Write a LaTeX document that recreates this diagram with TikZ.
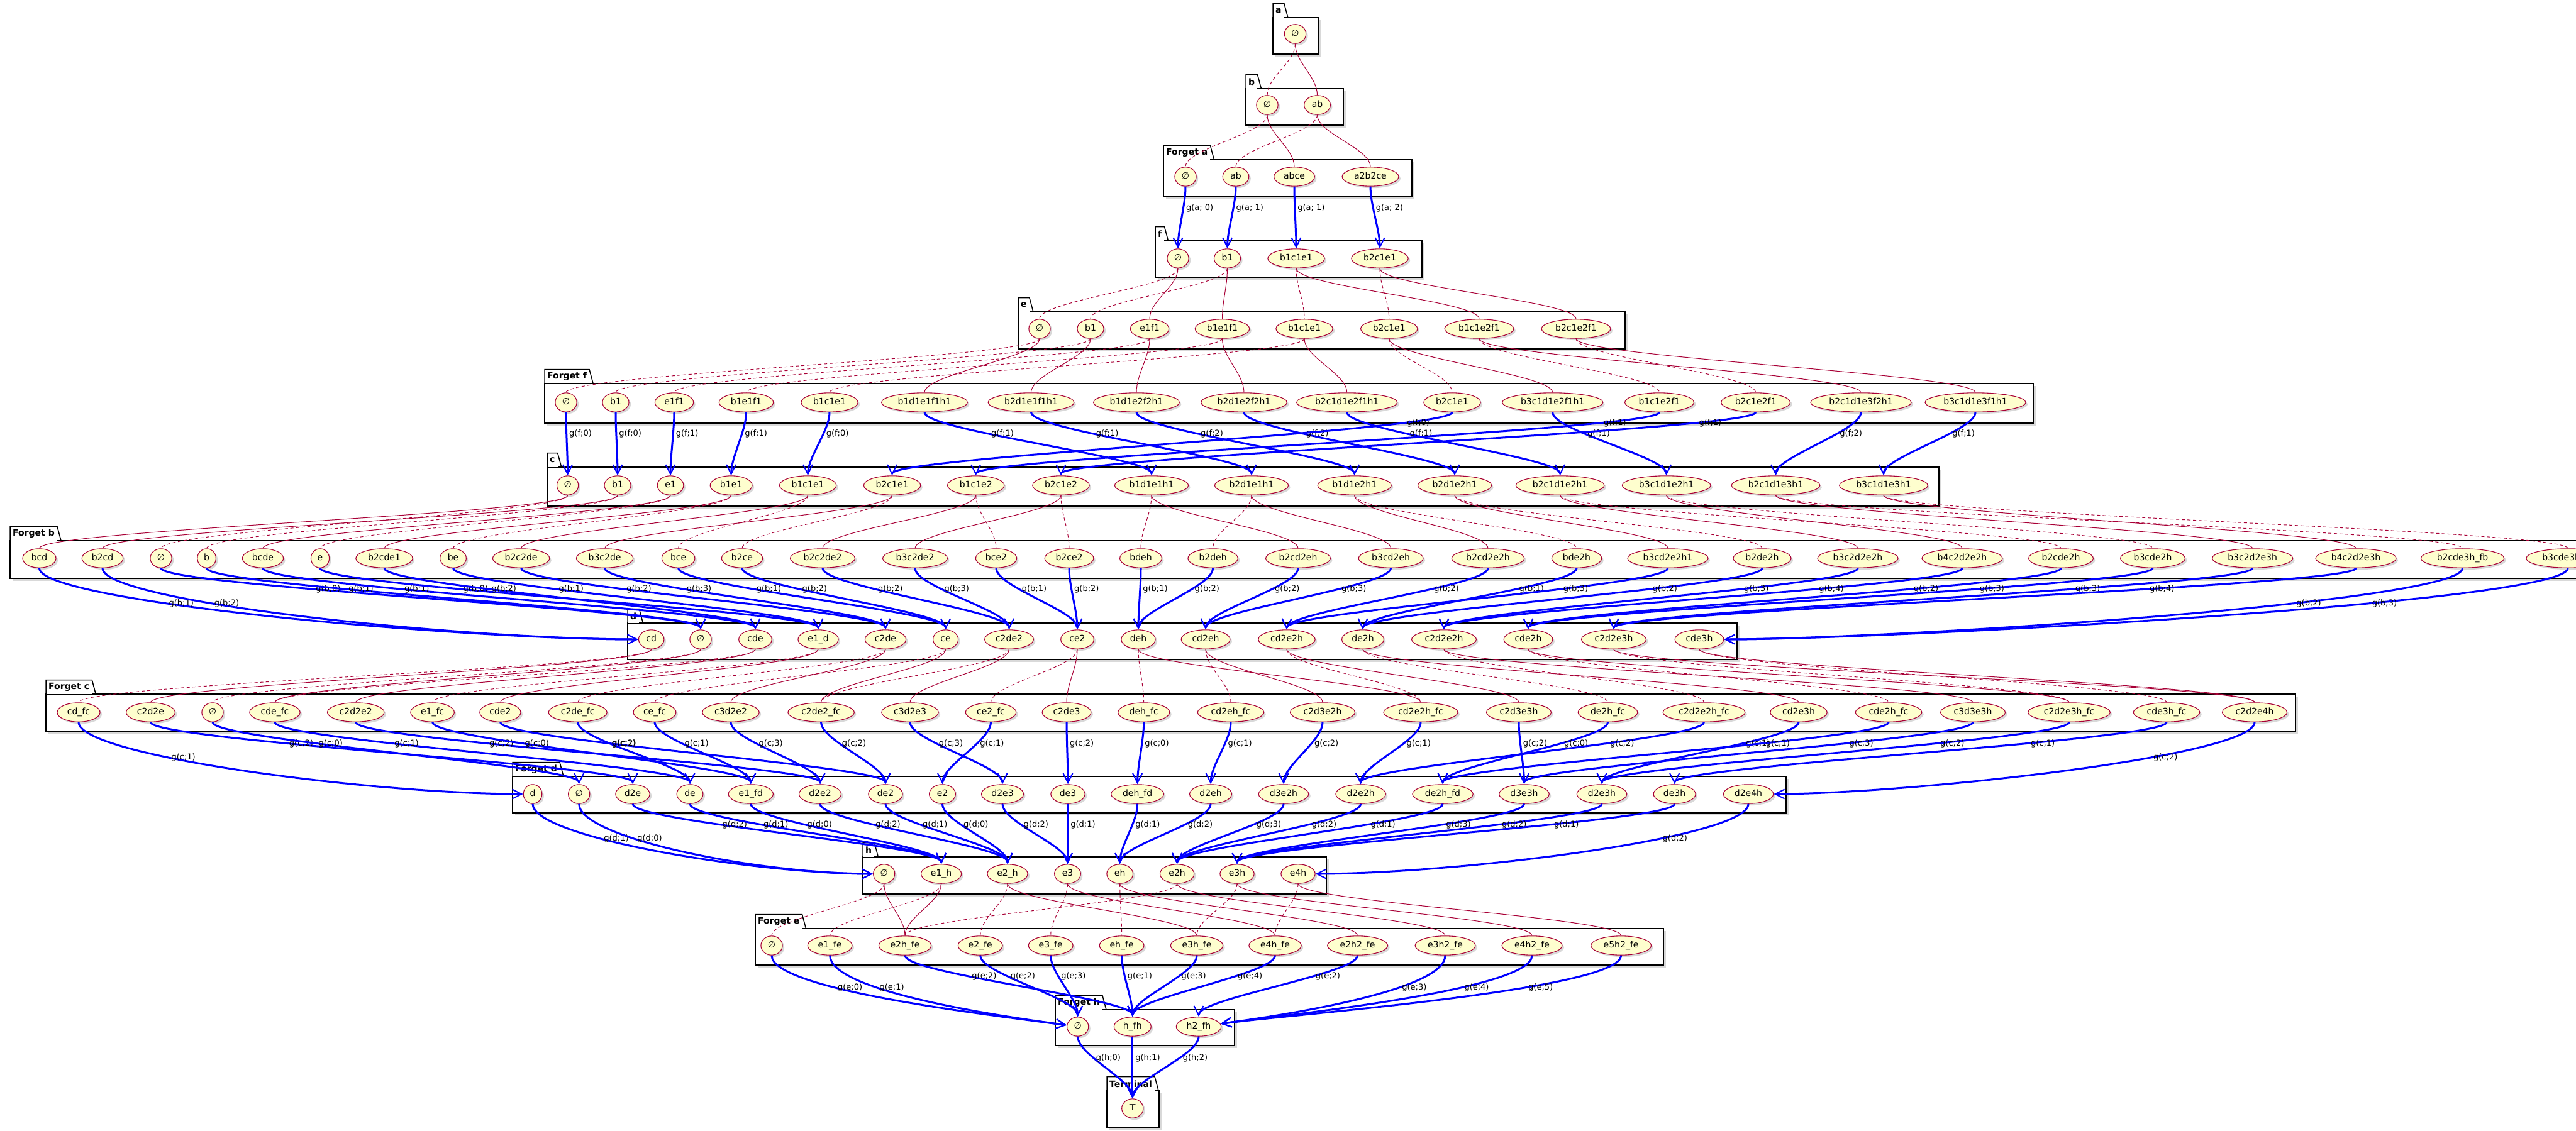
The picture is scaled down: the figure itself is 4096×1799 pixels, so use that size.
\documentclass[tikz,border=0pt]{standalone}
\usepackage{fontspec}
\setmainfont{DejaVu Sans}
\usetikzlibrary{shapes.geometric,shadows,arrows.meta}
\definecolor{ucfill}{HTML}{FEFECE}
\definecolor{ucline}{HTML}{A80036}

\tikzset{
  uc/.style={ellipse, draw=ucline, fill=ucfill, line width=1.1pt, inner xsep=6pt, inner ysep=4pt,
    text height=10.5pt, text depth=3pt, font=\fontsize{14}{16}\selectfont,
    drop shadow={shadow xshift=3pt, shadow yshift=-3pt, opacity=0.3}},
  rel/.style={draw=ucline, line width=1pt},
  reldash/.style={rel, dash pattern=on 5pt off 4pt},
  garrow/.style={draw=blue, line width=3pt, -{Straight Barb[length=15pt,width=15pt,line width=2pt]}},
  glbl/.style={pos=0.35, anchor=west, inner sep=3pt, text=black, font=\fontsize{13}{15}\selectfont},
  vc/.style={to path={.. controls +(0,-#1) and +(0,#1) .. (\tikztotarget) \tikztonodes}},
  vc/.default=45,
  pkgline/.style={draw=black, line width=1.5pt},
  pkgtab/.style={fill=white, inner xsep=4pt, inner ysep=0pt, minimum height=22pt, font=\bfseries\fontsize{14}{16}\selectfont},
}

% package: id, title, left, right, body top, body bottom
\newcommand{\pkgbox}[6]{%
  \draw[pkgline, fill=white, drop shadow={shadow xshift=4pt, shadow yshift=-4pt, opacity=0.3}] (#3,-#5) rectangle (#4,-#6);
  \node[pkgtab, anchor=south west] (#1) at (#3,-#5) {#2};
  \draw[pkgline] (#1.south west) -- (#1.north west) -- (#1.north east) -- ([xshift=6pt]#1.south east);
}

\begin{document}
\begin{tikzpicture}[x=1pt, y=1pt]
\useasboundingbox (0,0) rectangle (4096,-1799);

% packages
\pkgbox{pa}{a}{2024}{2097}{28}{86}
\pkgbox{pb}{b}{1981}{2136}{141}{199}
\pkgbox{pfa}{Forget a}{1850}{2245}{254}{312}
\pkgbox{pf}{f}{1837}{2261}{383}{441}
\pkgbox{pe}{e}{1619}{2584}{496}{555}
\pkgbox{pff}{Forget f}{866}{3233}{610}{673}
\pkgbox{pc}{c}{870}{3083}{743}{805}
\pkgbox{pfb}{Forget b}{16}{4150}{860}{920}
\pkgbox{pd}{d}{998}{2762}{991}{1049}
\pkgbox{pfc}{Forget c}{73}{3650}{1104}{1164}
\pkgbox{pfd}{Forget d}{815}{2840}{1235}{1293}
\pkgbox{ph}{h}{1372}{2109}{1363}{1422}
\pkgbox{pfe}{Forget e}{1201}{2645}{1477}{1535}
\pkgbox{pfh}{Forget h}{1678}{1963}{1606}{1663}
\pkgbox{pt}{Terminal}{1760}{1843}{1735}{1793}

% states
\node[uc] (a0) at (2059.5,-54) {∅};
\node[uc] (b0) at (2015,-167) {∅};
\node[uc] (b1) at (2094.5,-167) {ab};
\foreach \x/\t [count=\i from 0] in {1885/∅, 1965/ab, 2058/abce, 2179/a2b2ce}
  \node[uc] (fa\i) at (\x,-281) {\t};
\foreach \x/\t [count=\i from 0] in {1873/∅, 1951.5/b1, 2061/b1c1e1, 2194/b2c1e1}
  \node[uc] (f\i) at (\x,-411) {\t};
\foreach \x/\t [count=\i from 0] in {1653/∅, 1734/b1, 1828/e1f1, 1943.5/b1e1f1, 2074/b1c1e1,
    2208.7/b2c1e1, 2352/b1c1e2f1, 2506/b2c1e2f1}
  \node[uc] (e\i) at (\x,-523) {\t};
\foreach \x/\t [count=\i from 0] in {900/∅, 979/b1, 1072/e1f1, 1186.5/b1e1f1, 1319/b1c1e1,
    1470/b1d1e1f1h1, 1639.5/b2d1e1f1h1, 1807/b1d1e2f2h1, 1978/b2d1e2f2h1, 2141.7/b2c1d1e2f1h1,
    2309/b2c1e1, 2468.7/b3c1d1e2f1h1, 2638.5/b1c1e2f1, 2791.6/b2c1e2f1, 2959/b2c1d1e3f2h1,
    3141/b3c1d1e3f1h1}
  \node[uc] (ff\i) at (\x,-640) {\t};
\foreach \x/\t [count=\i from 0] in {902.6/∅, 982/b1, 1066/e1, 1162.6/b1e1, 1284.6/b1c1e1,
    1418.6/b2c1e1, 1551.7/b1c1e2, 1687/b2c1e2, 1831/b1d1e1h1, 1990/b2d1e1h1, 2153.7/b1d1e2h1,
    2313/b2d1e2h1, 2480.6/b2c1d1e2h1, 2649.7/b3c1d1e2h1, 2823.5/b2c1d1e3h1, 2995/b3c1d1e3h1}
  \node[uc] (c\i) at (\x,-772) {\t};
\foreach \x/\t [count=\i from 0] in {62.5/bcd, 163/b2cd, 256/∅, 328.6/b, 418/bcde, 509/e,
    611/b2cde1, 720.5/be, 828.6/b2c2de, 961.6/b3c2de, 1078.6/bce, 1180/b2ce, 1308/b2c2de2,
    1455/b3c2de2, 1584/bce2, 1700/b2ce2, 1814/bdeh, 1928.6/b2deh, 2064/b2cd2eh, 2211.6/b3cd2eh,
    2366/b2cd2e2h, 2507/bde2h, 2652/b3cd2e2h1, 2802/b2de2h, 2954/b3c2d2e2h, 3120/b4c2d2e2h,
    3277/b2cde2h, 3423/b3cde2h, 3581.6/b3c2d2e3h, 3746/b4c2d2e3h, 3915.5/b2cde3h\_fb,
    4083/b3cde3h\_fb}
  \node[uc] (fb\i) at (\x,-888) {\t};
\foreach \x/\t [count=\i from 0] in {1035.7/cd, 1114/∅, 1201/cde, 1301/e1\_d, 1408/c2de,
    1503.6/ce, 1604.5/c2de2, 1713/ce2, 1810/deh, 1917/cd2eh, 2046/cd2e2h, 2167/de2h,
    2296/c2d2e2h, 2430/cde2h, 2566/c2d2e3h, 2702/cde3h}
  \node[uc] (d\i) at (\x,-1017) {\t};
\foreach \x/\t [count=\i from 0] in {125/cd\_fc, 239.5/c2d2e, 338/∅, 437/cde\_fc, 565.7/c2d2e2,
    687.6/e1\_fc, 795.4/cde2, 918.7/c2de\_fc, 1041/ce\_fc, 1162/c3d2e2, 1305.6/c2de2\_fc,
    1447/c3d2e3, 1575.5/ce2\_fc, 1696/c2de3, 1818.7/deh\_fc, 1957/cd2eh\_fc, 2103/c2d3e2h,
    2259/cd2e2h\_fc, 2415/c2d3e3h, 2556.5/de2h\_fc, 2709.5/c2d2e2h\_fc, 2860/cd2e3h,
    3003/cde2h\_fc, 3137/c3d3e3h, 3290/c2d2e3h\_fc, 3445/cde3h\_fc, 3585/c2d2e4h}
  \node[uc] (fc\i) at (\x,-1133) {\t};
\foreach \x/\t [count=\i from 0] in {847/d, 920.7/∅, 1006/d2e, 1097/de, 1193.8/e1\_fd, 1304/d2e2,
    1408/de2, 1498.5/e2, 1594/d2e3, 1698/de3, 1808.6/deh\_fd, 1925/d2eh, 2041/d3e2h,
    2163.6/d2e2h, 2294/de2h\_fd, 2423.5/d3e3h, 2547/d2e3h, 2662.6/de3h, 2780/d2e4h}
  \node[uc] (fd\i) at (\x,-1263) {\t};
\foreach \x/\t [count=\i from 0] in {1405.7/∅, 1496.6/e1\_h, 1602/e2\_h, 1697.5/e3, 1780.7/eh,
    1871.6/e2h, 1967/e3h, 2064/e4h}
  \node[uc] (h\i) at (\x,-1390) {\t};
\foreach \x/\t [count=\i from 0] in {1227/∅, 1319.6/e1\_fe, 1439/e2h\_fe, 1558.7/e2\_fe,
    1670.7/e3\_fe, 1783.6/eh\_fe, 1903/e3h\_fe, 2027.5/e4h\_fe, 2158.6/e2h2\_fe, 2298/e3h2\_fe,
    2436/e4h2\_fe, 2577.6/e5h2\_fe}
  \node[uc] (fe\i) at (\x,-1504) {\t};
\foreach \x/\t [count=\i from 0] in {1713.7/∅, 1800.8/h\_fh, 1906/h2\_fh}
  \node[uc] (fh\i) at (\x,-1633) {\t};
\node[uc] (t0) at (1800.8,-1763) {⊤};

% introduce edges
\draw[reldash] (a0) to[vc] (b0);
\draw[rel] (a0) to[vc] (b1);
\foreach \s/\t in {0/0,1/1} \draw[reldash] (b\s) to[vc] (fa\t);
\foreach \s/\t in {0/2,1/3} \draw[rel] (b\s) to[vc] (fa\t);
\foreach \s/\t in {0/0,1/1,2/4,3/5} \draw[reldash] (f\s) to[vc] (e\t);
\foreach \s/\t in {0/2,1/3,2/6,3/7} \draw[rel] (f\s) to[vc] (e\t);
\foreach \s/\t in {0/0,1/1,2/2,3/3,4/4,5/10,6/12,7/13} \draw[reldash] (e\s) to[vc] (ff\t);
\foreach \s/\t in {0/5,1/6,2/7,3/8,4/9,5/11,6/14,7/15} \draw[rel] (e\s) to[vc] (ff\t);
\foreach \s/\t in {0/2,1/3,2/5,3/7,4/10,5/11,6/14,7/15,8/16,9/17,10/21,11/23,12/26,13/27,14/30,15/31}
  \draw[reldash] (c\s) to[vc] (fb\t);
\foreach \s/\t in {0/0,1/1,2/4,3/6,4/8,5/9,6/12,7/13,8/18,9/19,10/20,11/22,12/24,13/25,14/28,15/29}
  \draw[rel] (c\s) to[vc] (fb\t);
\foreach \s/\t in {0/0,1/2,2/3,3/5,4/7,5/8,6/10,7/12,8/14,9/15,10/17,11/19,12/20,13/22,14/24,15/25}
  \draw[reldash] (d\s) to[vc] (fc\t);
\foreach \s/\t in {0/1,1/3,2/4,3/6,4/9,5/10,6/11,7/13,8/17,9/16,10/18,11/21,12/23,13/24,14/26,15/26}
  \draw[rel] (d\s) to[vc] (fc\t);
\foreach \s/\t in {0/0,1/1,2/3,3/4,4/5,5/2,6/6,7/7} \draw[reldash] (h\s) to[vc] (fe\t);
\foreach \s/\t in {0/2,1/2,2/6,3/7,4/8,5/9,6/10,7/11} \draw[rel] (h\s) to[vc] (fe\t);

% forget edges
\draw[garrow] (fa0) to[vc] node[glbl] {g(a; 0)} (f0);
\draw[garrow] (fa1) to[vc] node[glbl] {g(a; 1)} (f1);
\draw[garrow] (fa2) to[vc] node[glbl] {g(a; 1)} (f2);
\draw[garrow] (fa3) to[vc] node[glbl] {g(a; 2)} (f3);
\foreach \s/\t/\k in {0/0/0,1/1/0,2/2/1,3/3/1,4/4/0,5/8/1,6/9/1,7/10/2,8/11/2,9/12/1,
    11/13/1,14/14/2,15/15/1}
  \draw[garrow] (ff\s) to[vc] node[glbl] {g(f;\k)} (c\t);
\foreach \s/\t/\k in {10/5/0,12/6/1,13/7/1}
  \draw[garrow] (ff\s) to[vc] node[glbl, pos=0.18] {g(f;\k)} (c\t);
\foreach \s/\t/\k in {2/1/0,3/1/1,4/2/1,5/3/0,6/2/2,7/3/1,8/4/2,9/4/3,10/5/1,11/5/2,12/6/2,13/6/3,
    14/7/1,15/7/2,16/8/1,17/8/2,18/9/2,19/9/3,20/10/2,21/11/1,22/10/3,23/11/2,24/12/3,25/12/4,
    26/13/2,27/13/3,28/14/3,29/14/4}
  \draw[garrow] (fb\s) to[vc] node[glbl] {g(b;\k)} (d\t);
\foreach \s/\k in {0/1,1/2}
  \draw[garrow] (fb\s) .. controls +(0,-70) and +(-300,0) .. (d0) node[glbl] {g(b;\k)};
\foreach \s/\k in {30/2,31/3}
  \draw[garrow] (fb\s) .. controls +(0,-70) and +(300,0) .. (d15) node[glbl] {g(b;\k)};
\foreach \s/\t/\k in {1/2/2,2/1/0,3/3/1,4/5/2,5/4/0,6/6/1,7/3/2,8/4/1,9/5/3,10/6/2,11/8/3,12/7/1,
    13/9/2,14/10/0,15/11/1,16/12/2,17/13/1,18/15/2,19/14/0,20/13/2,21/16/1,22/14/1,23/15/3,
    24/16/2,25/17/1}
  \draw[garrow] (fc\s) to[vc] node[glbl] {g(c;\k)} (fd\t);
\draw[garrow] (fc0) .. controls +(0,-70) and +(-250,0) .. (fd0) node[glbl] {g(c;1)};
\draw[garrow] (fc26) .. controls +(0,-70) and +(250,0) .. (fd18) node[glbl] {g(c;2)};
\foreach \s/\t/\k in {2/1/2,3/1/1,4/1/0,5/2/2,6/2/1,7/2/0,8/3/2,9/3/1,10/4/1,11/4/2,12/5/3,13/5/2,
    14/5/1,15/6/3,16/6/2,17/6/1}
  \draw[garrow] (fd\s) to[vc] node[glbl] {g(d;\k)} (h\t);
\foreach \s/\k in {0/1,1/0}
  \draw[garrow] (fd\s) .. controls +(0,-70) and +(-200,0) .. (h0) node[glbl] {g(d;\k)};
\draw[garrow] (fd18) .. controls +(0,-70) and +(250,0) .. (h7) node[glbl] {g(d;2)};
\foreach \s/\t/\k in {2/1/2,3/0/2,4/0/3,5/1/1,6/1/3,7/1/4,8/2/2}
  \draw[garrow] (fe\s) to[vc] node[glbl] {g(e;\k)} (fh\t);
\foreach \s/\k in {0/0,1/1}
  \draw[garrow] (fe\s) .. controls +(0,-70) and +(-150,20) .. (fh0) node[glbl] {g(e;\k)};
\foreach \s/\k in {9/3,10/4,11/5}
  \draw[garrow] (fe\s) .. controls +(0,-70) and +(150,20) .. (fh2) node[glbl] {g(e;\k)};
\foreach \s/\k in {0/0,1/1,2/2}
  \draw[garrow] (fh\s) to[vc] node[glbl] {g(h;\k)} (t0);
\end{tikzpicture}
\end{document}
